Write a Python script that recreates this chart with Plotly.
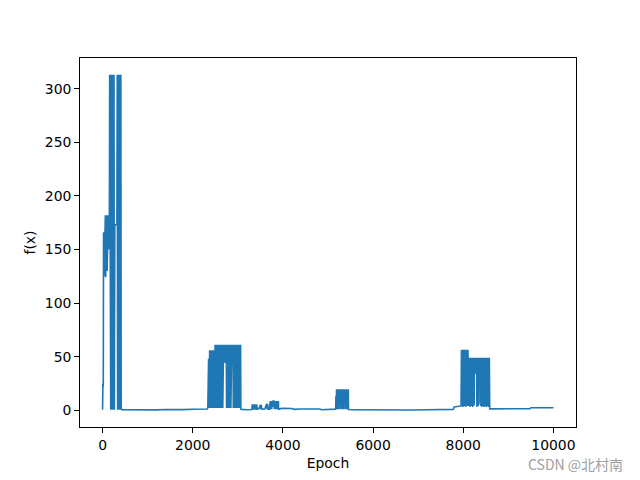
import plotly.graph_objects as go

# ---- data (epoch, f(x)) ----
warmup = [(0, 0.5), (8, 25), (16, 22), (22, 165), (30, 126), (38, 166), (46, 125), (54, 166),
          (62, 182), (70, 124), (78, 182), (86, 126), (94, 182), (102, 130), (110, 182), (118, 140),
          (126, 182), (134, 150), (142, 182), (150, 152), (158, 313), (166, 0.5), (174, 313), (182, 0.5),
          (190, 313), (198, 0.5), (206, 313), (214, 0.5), (222, 313), (230, 0.5), (238, 313), (246, 0.5),
          (254, 313), (262, 0.5), (268, 313), (272, 173), (318, 173), (320, 0.5), (326, 313), (334, 0.5),
          (342, 313), (350, 0.5), (358, 313), (366, 0.5), (374, 313), (382, 0.5), (390, 313), (398, 0.5),
          (406, 313), (414, 0.5), (420, 313), (426, 0.8)]

low_1 = [(440, 0.6), (600, 0.4), (800, 0.8), (1000, 0.5), (1200, 0.3), (1400, 0.7), (1600, 0.5),
         (1800, 0.6), (2000, 0.9), (2200, 0.7), (2320, 1.2)]

burst_2 = [(2335, 2), (2340, 37), (2346, 2), (2352, 48), (2358, 2), (2364, 56), (2370, 2), (2376, 56),
           (2382, 2), (2388, 56), (2394, 2), (2400, 56), (2406, 2), (2412, 56), (2418, 2), (2424, 56),
           (2430, 2), (2436, 56), (2442, 2), (2448, 56), (2454, 2), (2460, 56), (2466, 2), (2472, 56),
           (2478, 2), (2484, 56), (2490, 2), (2496, 61), (2502, 2), (2508, 61), (2514, 2), (2520, 61),
           (2526, 2), (2530, 61), (2536, 52), (2542, 61), (2546, 2), (2552, 61), (2558, 2), (2564, 61),
           (2570, 2), (2576, 61), (2582, 2), (2588, 61), (2594, 2), (2600, 61), (2606, 2), (2612, 61),
           (2618, 2), (2624, 61), (2630, 2), (2636, 61), (2642, 2), (2648, 61), (2654, 2), (2660, 61),
           (2666, 2), (2672, 61), (2678, 2), (2684, 61), (2694, 44), (2704, 61), (2714, 45), (2724, 61),
           (2734, 44), (2744, 61), (2750, 2), (2756, 61), (2762, 2), (2768, 61), (2774, 2), (2780, 61),
           (2786, 2), (2792, 61), (2798, 2), (2804, 61), (2810, 2), (2816, 61), (2822, 2), (2828, 61),
           (2834, 2), (2840, 61), (2846, 2), (2852, 61), (2858, 2), (2866, 61), (2880, 48), (2894, 61),
           (2900, 2), (2906, 61), (2912, 2), (2918, 61), (2924, 2), (2930, 61), (2936, 2), (2942, 61),
           (2948, 2), (2954, 61), (2960, 2), (2966, 61), (2972, 2), (2978, 61), (2984, 2), (2990, 61),
           (2996, 2), (3002, 61), (3008, 2), (3014, 61), (3020, 2), (3026, 61), (3032, 2), (3038, 61),
           (3044, 2), (3050, 61), (3056, 2), (3062, 61), (3068, 1)]

bumps = [(3080, 0.8), (3200, 0.5), (3310, 0.6), (3320, 5.5), (3330, 0.5), (3340, 5.5), (3350, 0.5),
         (3360, 5.5), (3370, 0.5), (3380, 5.5), (3390, 0.5), (3400, 5.5), (3410, 0.5), (3420, 5.5),
         (3430, 1), (3470, 1.5), (3500, 5), (3510, 1), (3520, 5), (3530, 1), (3560, 1), (3600, 1.2),
         (3640, 6), (3650, 1), (3660, 6), (3670, 1), (3700, 1), (3720, 8.5), (3730, 1), (3740, 8.5),
         (3750, 1), (3760, 8.5), (3770, 3), (3780, 8.5), (3800, 8.5), (3810, 1), (3820, 8.5), (3830, 1),
         (3840, 8.5), (3850, 1), (3860, 8.5), (3870, 1), (3880, 8.5), (3890, 1), (3900, 8.5), (3905, 1)]

low_2 = [(3950, 1.5), (4000, 1.8), (4200, 1.6), (4250, 0.8), (4380, 1.2), (4600, 1.3), (4820, 1.2),
         (4850, 0.5), (5000, 0.6), (5150, 0.7)]

burst_3 = [(5170, 1), (5175, 13), (5180, 1), (5190, 19.5), (5200, 1), (5210, 19.5), (5220, 1),
           (5230, 19.5), (5240, 1), (5250, 19.5), (5260, 1), (5270, 19.5), (5280, 16), (5290, 19.5),
           (5300, 1), (5310, 19.5), (5320, 1), (5330, 19.5), (5340, 1), (5350, 19.5), (5360, 16),
           (5370, 19.5), (5380, 1), (5390, 19.5), (5400, 1), (5410, 19.5), (5420, 1), (5430, 19.5),
           (5440, 1), (5450, 19.5), (5455, 0.6)]

low_3 = [(5600, 0.5), (6000, 0.3), (6400, 0.6), (6800, 0.2), (7200, 0.4), (7600, 0.5), (7780, 0.8),
         (7800, 3), (7900, 3.5), (7950, 4)]

burst_4 = [(7960, 56.5), (7966, 4), (7972, 56.5), (7978, 6), (7984, 56.5), (7990, 3), (7996, 56.5),
           (8002, 8), (8008, 56.5), (8014, 5), (8020, 56.5), (8026, 4), (8032, 56.5), (8038, 9),
           (8044, 56.5), (8050, 3), (8056, 56.5), (8062, 5), (8068, 56.5), (8074, 7), (8080, 56.5),
           (8086, 4), (8092, 56.5), (8098, 10), (8104, 56.5), (8110, 5), (8116, 56.5), (8122, 4),
           (8128, 49), (8134, 6), (8140, 49), (8146, 3), (8152, 49), (8158, 8), (8164, 49), (8170, 5),
           (8176, 49), (8182, 4), (8188, 49), (8194, 9), (8200, 49), (8206, 3), (8212, 49), (8218, 6),
           (8224, 49), (8230, 4), (8236, 49), (8242, 7), (8248, 49), (8262, 34), (8276, 49), (8290, 35),
           (8296, 49), (8302, 3), (8308, 49), (8314, 8), (8320, 49), (8326, 5), (8332, 49), (8338, 4),
           (8344, 49), (8350, 6), (8356, 49), (8370, 34), (8384, 49), (8390, 4), (8396, 49), (8402, 7),
           (8408, 49), (8414, 3), (8420, 49), (8426, 6), (8432, 49), (8438, 4), (8444, 49), (8450, 9),
           (8456, 49), (8462, 3), (8468, 49), (8474, 5), (8480, 49), (8486, 4), (8492, 49), (8498, 7),
           (8504, 49), (8510, 3), (8516, 49), (8522, 5), (8528, 49), (8534, 4), (8540, 49), (8546, 6),
           (8552, 49), (8558, 3), (8564, 49), (8570, 4), (8578, 49), (8586, 1.3)]

tail = [(8600, 1.3), (9000, 1.3), (9480, 1.4), (9500, 2.3), (10000, 2.3)]

x_ticks = [0, 2000, 4000, 6000, 8000, 10000]
y_ticks = [0, 50, 100, 150, 200, 250, 300]

segments = [warmup, low_1, burst_2, bumps, low_2, burst_3, low_3, burst_4, tail]
epochs = [e for seg in segments for e, _ in seg]
fx = [v for seg in segments for _, v in seg]

fig = go.Figure()
fig.add_trace(go.Scatter(x=epochs, y=fx, mode="lines",
                         line=dict(color="#1f77b4", width=1.6), showlegend=False))

font = dict(family="DejaVu Sans", size=13.9, color="black")
axis_common = dict(showline=True, mirror=True, linecolor="black", linewidth=1,
                   ticks="outside", ticklen=4.9, tickwidth=1.1, tickcolor="black",
                   showgrid=False, zeroline=False, tickfont=font)

fig.update_layout(
    width=640, height=480,
    margin=dict(l=80, r=64, t=58, b=53),
    paper_bgcolor="white", plot_bgcolor="white",
    font=font,
    xaxis=dict(range=[-500, 10500], tickvals=x_ticks, ticktext=[str(t) for t in x_ticks],
               title=dict(text="Epoch", font=font, standoff=6), **axis_common),
    yaxis=dict(range=[-15.65, 328.65], tickvals=y_ticks, ticktext=[str(t) for t in y_ticks],
               title=dict(text="f(x)", font=font, standoff=5), **axis_common),
    annotations=[dict(text="CSDN @北村南", xref="paper", yref="paper", x=1.099, y=-0.1003,
                      xanchor="right", yanchor="middle", showarrow=False,
                      font=dict(family="Noto Sans CJK SC", size=14, color="#a0a0a0"))],
)

fig.write_html("out.html", config={"displayModeBar": False},
               post_script="document.body.style.margin='0';document.body.style.overflow='hidden';")
